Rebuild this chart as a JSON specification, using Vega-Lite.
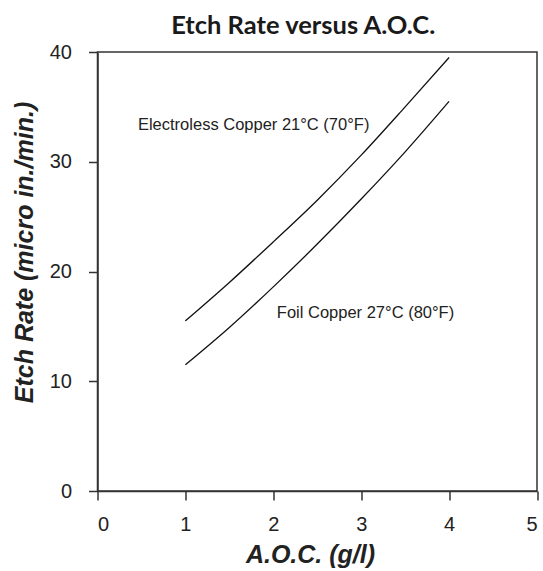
{
  "$schema": "https://vega.github.io/schema/vega-lite/v6.json",
  "autosize": "none",
  "width": 439.5,
  "height": 439,
  "padding": {"left": 97.5, "top": 52, "right": 6, "bottom": 80},
  "background": "white",
  "title": {
    "text": "Etch Rate versus A.O.C.",
    "font": "Lato",
    "fontSize": 25.5,
    "fontWeight": "bold",
    "color": "#1a1a1a",
    "frame": "group",
    "anchor": "middle",
    "dx": -14,
    "dy": 37,
    "baseline": "bottom",
    "offset": 15
  },
  "config": {
    "view": {"stroke": "#333333", "strokeWidth": 1.5},
    "axis": {
      "grid": false,
      "domainColor": "#333333",
      "domainWidth": 1.5,
      "tickColor": "#333333",
      "tickWidth": 1.5,
      "tickSize": 9,
      "labelFont": "Liberation Sans",
      "labelFontSize": 20,
      "labelColor": "#222222",
      "titleFont": "Liberation Sans",
      "titleFontSize": 25,
      "titleFontWeight": "bold",
      "titleFontStyle": "italic",
      "titleColor": "#222222"
    }
  },
  "datasets": {
    "curves": [
      {"series": "Electroless Copper", "aoc": 1.0, "rate": 15.5},
      {"series": "Electroless Copper", "aoc": 1.5, "rate": 19.0},
      {"series": "Electroless Copper", "aoc": 2.0, "rate": 22.7},
      {"series": "Electroless Copper", "aoc": 2.5, "rate": 26.5},
      {"series": "Electroless Copper", "aoc": 3.0, "rate": 30.6},
      {"series": "Electroless Copper", "aoc": 3.5, "rate": 35.0},
      {"series": "Electroless Copper", "aoc": 4.0, "rate": 39.5},
      {"series": "Foil Copper", "aoc": 1.0, "rate": 11.5},
      {"series": "Foil Copper", "aoc": 1.5, "rate": 14.9},
      {"series": "Foil Copper", "aoc": 2.0, "rate": 18.6},
      {"series": "Foil Copper", "aoc": 2.5, "rate": 22.5},
      {"series": "Foil Copper", "aoc": 3.0, "rate": 26.6},
      {"series": "Foil Copper", "aoc": 3.5, "rate": 30.9},
      {"series": "Foil Copper", "aoc": 4.0, "rate": 35.5}
    ]
  },
  "layer": [
    {
      "data": {"name": "curves"},
      "mark": {"type": "line", "interpolate": "monotone", "color": "#111111", "strokeWidth": 1.3},
      "encoding": {
        "x": {
          "field": "aoc",
          "type": "quantitative",
          "scale": {"domain": [0, 5], "nice": false},
          "axis": {"values": [0, 1, 2, 3, 4, 5], "format": "d", "labelPadding": 14, "title": "A.O.C. (g/l)", "titlePadding": 8, "titleX": 212.5}
        },
        "y": {
          "field": "rate",
          "type": "quantitative",
          "scale": {"domain": [0, 40], "nice": false},
          "axis": {"values": [0, 10, 20, 30, 40], "format": "d", "labelPadding": 17, "title": "Etch Rate (micro in./min.)", "titlePadding": 12, "titleY": 200}
        },
        "detail": {"field": "series"}
      }
    },
    {
      "data": {"values": [{}]},
      "mark": {"type": "text", "text": "Electroless Copper 21°C (70°F)", "align": "left", "baseline": "middle", "font": "Liberation Sans", "fontSize": 16.5, "color": "#222222"},
      "encoding": {"x": {"datum": 0.46}, "y": {"datum": 33.35}}
    },
    {
      "data": {"values": [{}]},
      "mark": {"type": "text", "text": "Foil Copper 27°C (80°F)", "align": "left", "baseline": "middle", "font": "Liberation Sans", "fontSize": 16.5, "color": "#222222"},
      "encoding": {"x": {"datum": 2.04}, "y": {"datum": 16.2}}
    }
  ]
}
